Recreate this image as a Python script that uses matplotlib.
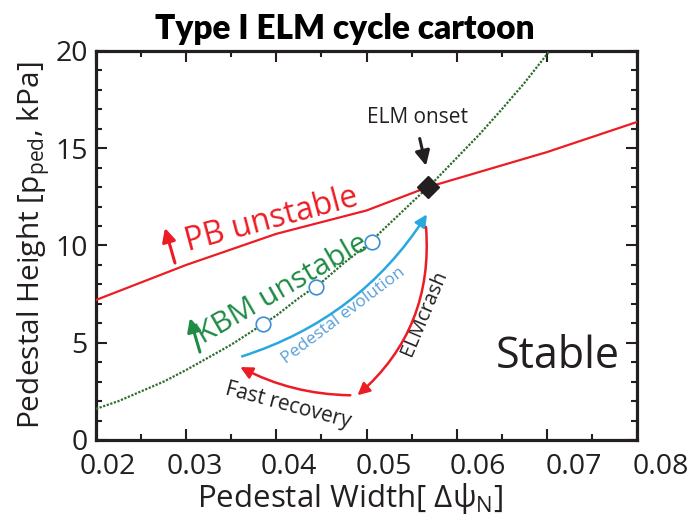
import matplotlib
matplotlib.use("Agg")
import matplotlib.pyplot as plt
from matplotlib.ticker import MultipleLocator
from matplotlib.transforms import ScaledTranslation

plt.rcParams['font.family'] = ['Open Sans', 'DejaVu Sans']
plt.rcParams['mathtext.fontset'] = 'custom'
plt.rcParams['mathtext.rm'] = 'Open Sans'

INK = '#231f20'
RED = '#ed1c24'
GREEN_TXT = '#1f8b45'
GREEN_LINE = '#2c6e2c'
BLUE = '#29a8e0'
BLUE_TXT = '#5aa0d8'

# peeling-ballooning boundary
pb_x = [0.02, 0.03, 0.04, 0.05, 0.0568, 0.07, 0.08]
pb_y = [7.2, 9.0, 10.6, 11.8, 13.0, 14.8, 16.35]

# KBM constraint
kbm_x = [0.02, 0.0225, 0.025, 0.0275, 0.03, 0.0325, 0.035, 0.0375, 0.04, 0.0425,
         0.045, 0.0475, 0.05, 0.0525, 0.055, 0.0575, 0.06, 0.0625, 0.065, 0.0675, 0.0703]
kbm_y = [1.6, 2.0, 2.5, 3.0, 3.6, 4.25, 4.9, 5.65, 6.4, 7.3,
         8.1, 9.1, 10.0, 11.1, 12.2, 13.3, 14.5, 15.7, 17.0, 18.35, 20.0]

# pedestal states along the evolution and the onset point
evo_x = [0.0385, 0.0444, 0.0506]
evo_y = [5.96, 7.87, 10.18]
onset_x, onset_y = 0.0568, 13.0

# cycle arrows: (tail, tip)
evolution_arrow = ((0.0362, 4.3), (0.0567, 11.6))
crash_arrow = ((0.0566, 10.95), (0.0490, 2.3))
recovery_arrow = ((0.0482, 2.3), (0.0360, 3.75))
onset_arrow = ((0.0559, 15.5), (0.0566, 14.1))
pb_up_arrow = ((0.02876, 9.1), (0.02765, 10.9))
kbm_up_arrow = ((0.03153, 4.52), (0.03042, 6.27))

x_ticks = [0.02, 0.03, 0.04, 0.05, 0.06, 0.07, 0.08]
x_tick_labels = ['0.02', '0.03', '0.04', '0.05', '0.06', '0.07', '0.08']
# labels sit a little to the right of their ticks, spreading toward the right edge
x_label_shift = [12, 9, 12, 17, 21, 27, 24]

fig = plt.figure(figsize=(6.91, 5.22), dpi=100)
ax = fig.add_axes([96 / 691, 82 / 522, 541 / 691, 389 / 522])

ax.plot(pb_x, pb_y, color=RED, lw=1.6, zorder=3)
ax.plot(kbm_x, kbm_y, color=GREEN_LINE, lw=1.6, ls=(0, (1, 0.7)), zorder=3)
ax.plot(evo_x, evo_y, 'o', ms=10.5, mfc='white', mec='#3b8fd6', mew=1.2, zorder=5)
ax.plot(onset_x, onset_y, 'D', ms=11, color=INK, zorder=6)


def arrow(pts, color, rad=0.0, lw=1.8, scale=18):
    (x0, y0), (x1, y1) = pts
    ax.annotate('', xy=(x1, y1), xytext=(x0, y0),
                arrowprops=dict(arrowstyle='-|>', color=color, lw=lw,
                                mutation_scale=scale, shrinkA=0, shrinkB=0,
                                connectionstyle=f'arc3,rad={rad}'), zorder=4)


arrow(evolution_arrow, BLUE, rad=0.18)
arrow(crash_arrow, RED, rad=-0.25)
arrow(recovery_arrow, RED, rad=-0.12)
arrow(onset_arrow, INK, lw=2.2, scale=22)
arrow(pb_up_arrow, RED, lw=2.2, scale=20)
arrow(kbm_up_arrow, '#1f8b45', lw=2.2, scale=20)

ax.text(0.0395, 11.3, 'PB unstable', color=RED, fontsize=23, rotation=15,
        ha='center', va='center', rotation_mode='anchor')
ax.text(0.0407, 7.75, 'KBM unstable', color=GREEN_TXT, fontsize=21.5, rotation=30,
        ha='center', va='center', rotation_mode='anchor')
ax.text(0.0474, 6.4, 'Pedestal evolution', color=BLUE_TXT, fontsize=12.5, rotation=37,
        ha='center', va='center', rotation_mode='anchor')
ax.text(0.0564, 6.5, 'ELMcrash', color=INK, fontsize=14.5, rotation=67,
        ha='center', va='center', rotation_mode='anchor')
ax.text(0.0413, 1.75, 'Fast recovery', color=INK, fontsize=15, rotation=-15,
        ha='center', va='center', rotation_mode='anchor')
ax.text(0.0557, 16.6, 'ELM onset', color=INK, fontsize=15,
        ha='center', va='center')
ax.text(0.0712, 4.3, 'Stable', color=INK, fontsize=31,
        ha='center', va='center')

ax.set_xlim(0.02, 0.08)
ax.set_ylim(0, 20)
ax.xaxis.set_minor_locator(MultipleLocator(0.005))
ax.yaxis.set_major_locator(MultipleLocator(5))
ax.yaxis.set_minor_locator(MultipleLocator(1))
ax.set_xticks(x_ticks)
ax.set_xticklabels(x_tick_labels)
ax.tick_params(which='both', direction='in', top=True, right=True,
               width=1.5, color=INK, labelsize=20.5, labelcolor=INK)
ax.tick_params(which='major', length=8, pad=6)
ax.tick_params(axis='x', which='major', pad=9)
ax.tick_params(which='minor', length=4.5)
for lab, dx in zip(ax.get_xticklabels(), x_label_shift):
    lab.set_transform(lab.get_transform() + ScaledTranslation(dx / 100, 0, fig.dpi_scale_trans))
for s in ax.spines.values():
    s.set_linewidth(2.3)
    s.set_color(INK)

ax.set_xlabel(r'Pedestal Width[ Δψ$_\mathregular{N}$]', fontsize=22.5, color=INK)
ax.xaxis.set_label_coords(0.47, -0.105)
ax.set_ylabel(r'Pedestal Height [p$_\mathregular{ped}$, kPa]', fontsize=21.5, color=INK, labelpad=2)

fig.text(345 / 691, 1 - 29 / 522, 'Type I ELM cycle cartoon', fontsize=24,
         fontweight='heavy', family='Lato', ha='center', va='center', color='black')

fig.savefig('out.png', dpi=100)
